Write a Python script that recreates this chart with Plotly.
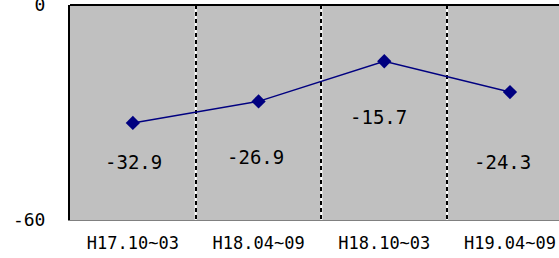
import plotly.graph_objects as go

categories = ["H17.10~03", "H18.04~09", "H18.10~03", "H19.04~09"]
values = [-32.9, -26.9, -15.7, -24.3]
y_ticks = [0, -60]

# label offsets (pixels) relative to each point
label_xshift = [1, -3, -6, -7]
label_yshift = [-39, -56, -56, -70]

FONT = "DejaVu Sans Mono"
NAVY = "#000080"
n = len(categories)
xs = list(range(n))

fig = go.Figure()
fig.add_trace(go.Scatter(
    x=xs, y=values, mode="lines+markers",
    line=dict(color=NAVY, width=1.5),
    marker=dict(symbol="diamond", size=11, color=NAVY),
    showlegend=False, hoverinfo="skip",
))

for i, v in enumerate(values):
    fig.add_annotation(
        x=xs[i], y=v, text=f"{v}", showarrow=False,
        xshift=label_xshift[i], yshift=label_yshift[i],
        font=dict(family=FONT, size=19, color="black"),
    )

# white underlay for dashed category dividers
for b in [i + 0.5 for i in range(n - 1)]:
    fig.add_shape(type="line", xref="x", yref="y domain", x0=b, x1=b, y0=0, y1=1,
                  line=dict(color="white", width=2), layer="below")

# black top border (category axis crossing at 0)
fig.add_shape(type="line", xref="x domain", yref="y domain", x0=0, x1=1, y0=1, y1=1,
              line=dict(color="black", width=2), layer="above")

fig.update_layout(
    width=559, height=258,
    margin=dict(l=70, r=0, t=5, b=38, autoexpand=False),
    paper_bgcolor="white", plot_bgcolor="#c0c0c0",
    xaxis=dict(
        range=[-0.5, n - 0.61],
        tickvals=xs, ticktext=categories,
        tickfont=dict(family=FONT, size=17, color="black"),
        showgrid=False, zeroline=False, automargin=False,
        ticklabeloverflow="allow",
        showline=True, linecolor="#808080", linewidth=1,
        ticks="", ticklabelstandoff=8,
        minor=dict(tick0=0.5, dtick=1, showgrid=True, gridcolor="black",
                   gridwidth=2, griddash="4px,3px", ticks=""),
    ),
    yaxis=dict(
        range=[-60, 0],
        tickvals=y_ticks, ticktext=[str(t) for t in y_ticks],
        tickfont=dict(family=FONT, size=18, color="black"),
        showgrid=False, zeroline=False, automargin=False,
        ticklabeloverflow="allow",
        showline=True, linecolor="black", linewidth=2,
        ticks="inside", ticklen=7, tickcolor="black", tickwidth=2,
        ticklabelstandoff=19,
    ),
)

fig.write_html("out.html", config={"displayModeBar": False},
               post_script="document.body.style.margin='0';")
